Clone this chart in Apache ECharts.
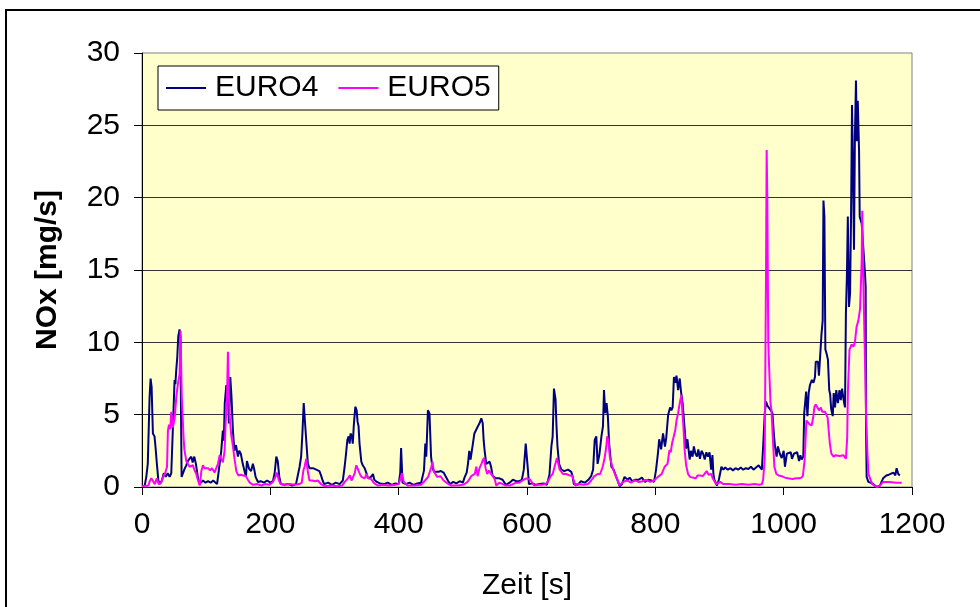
<!DOCTYPE html>
<html>
<head>
<meta charset="utf-8">
<title>NOx EURO4 / EURO5</title>
<script src="https://cdn.jsdelivr.net/npm/echarts@6/dist/echarts.min.js"></script>
<style>
  html, body { margin: 0; padding: 0; background: #ffffff; }
  #chart { width: 980px; height: 607px; }
</style>
</head>
<body>
<div id="chart"></div>
<script>
// NOx emission rate over the test cycle, sampled at irregular time steps [s]
const euro4Time = [0,4,6.7,9,11.8,13.4,15,17,19.5,21,23.2,25.5,27.8,31,34,37,40,43,45.6,48,49.5,50.8,52,53.4,55,56.5,58.5,60,60.6,61.7,64,66.4,69,71.5,74,76.8,79,81.5,84,87,89.5,92,95,99,103,107,111,114,117,121,123.5,126,127.5,129,131.4,134,135.5,137.6,139.5,141.7,144,146.5,149.5,151.5,154,157,162,163.5,165.5,167,170,172.8,175,177,180.6,185,190,195,200,204,206.7,209.3,211.5,214,216.5,222,228,234,240,243,245.6,248,250,252,253.8,256,258.5,261,264,266.5,269,271.6,274,276.5,279,281.5,284,290,296,302,308,313,315.8,318,320,322,323.6,325,327,328.5,330,332.4,334.5,336,337.5,339,341.8,344,347,349.5,352,357,360,362,366,371,377,383,389,395,400,402.5,403.8,405,406,411,417,423,429,435,439.5,441.5,443,445.6,448,450.5,452.4,455,458,462,466,470,473,476.7,480,485,490,495,500,503,506,508,510,512,515.7,518,520.5,523.5,526,528.8,531,532.5,534,536.5,539,541.8,544,546.5,552,557,562,567,573,578,583,588,592,595,598,600,601.5,603,608,614,620,626,631,635,638,640,642,644.5,646,647.5,650,653.5,658,664,669,671,673,679,684,690,695.6,700,703,705.5,708,710,713,716,718.4,720,722,724,726,728,731.5,735,739,742,744.5,748,752,757,760,764,769,774,779,784,789,794,798,801,804,806,809,812,815,817,820,823,825,827,829,831,833,835.5,838,840,842.5,845.7,848,850,853.5,855.5,858,860,862.5,865,867,869.5,872,874.5,877,879.5,882,884.5,887,889,890.5,892,896,899,903,906,909,913,917,921,925,929,933,937,941,945,949,953,957,961,963.5,966,968,970.5,972.5,975,977.5,980,982.5,985,986.5,989,991,994,997,1000,1002,1005,1008,1011,1013,1016,1018,1021,1024,1026,1028,1030.6,1032,1035,1037,1039,1041,1044,1046.5,1048.8,1050,1053.5,1055,1057.5,1059,1060.8,1062,1063.5,1065,1067,1069,1071,1072.5,1074,1076.5,1078,1080,1082,1084.5,1087,1089,1091,1093.5,1095.6,1097,1098.5,1100,1101.8,1103.5,1105,1106.5,1108,1109.6,1111,1112.7,1114,1115.5,1116.4,1117.5,1118.5,1121.6,1124,1126.7,1127.8,1128.3,1129.3,1132,1138,1145,1150,1153,1155,1160,1164,1167,1171,1174,1176,1178.6,1181];
const euro4Value = [0.05,0.05,0.7,1.6,6.2,7.5,6.9,3.7,3.5,2.8,1.6,0.45,0.2,0.45,0.95,0.7,0.95,0.7,0.95,3.9,5.8,7.4,7.1,8.1,9.0,10.4,10.9,10.4,6.2,0.7,0.6,1.25,1.5,1.8,1.9,2.1,1.7,2.1,1.6,0.7,0.2,0.3,0.45,0.3,0.4,0.3,0.45,0.35,0.2,1.6,2.5,3.9,3.2,5.8,7.05,6.2,4.4,7.6,6.2,3.9,2.5,2.9,2.1,2.5,2.3,1.6,0.7,1.8,1.7,1.25,1.1,1.6,1.2,0.7,0.35,0.4,0.3,0.45,0.3,0.4,0.95,2.1,1.8,0.7,0.2,0.15,0.2,0.1,0.2,0.3,1.4,2.1,3.7,5.8,5.9,3.2,1.6,1.3,1.2,1.3,1.2,1.2,1.3,1.1,0.8,0.45,0.2,0.3,0.15,0.3,0.2,0.45,1.4,2.3,3.25,3.5,3.0,3.7,3.5,3.0,4.2,5.55,5.3,4.5,4.2,3.0,1.75,1.5,1.3,1.0,0.6,0.7,0.9,0.5,0.35,0.25,0.2,0.3,0.15,0.25,0.2,1.0,2.7,2.6,0.3,0.2,0.3,0.15,0.25,0.3,1.15,3.0,2.1,5.3,5.1,2.1,1.4,1.05,1.1,1.05,1.1,1.0,0.9,0.45,0.2,0.35,0.25,0.4,0.3,0.7,1.0,1.6,2.5,1.9,3.0,3.7,3.6,4.2,4.4,4.75,4.4,3.2,2.5,1.6,1.5,1.75,1.4,0.75,0.6,0.6,0.5,0.15,0.3,0.5,0.4,0.4,0.5,1.2,3.0,2.9,1.15,0.2,0.25,0.15,0.2,0.25,0.15,0.85,2.8,3.5,6.8,6.05,4.2,2.8,1.6,1.2,1.1,1.2,1.05,0.75,0.2,0.15,0.4,0.3,0.5,0.75,1.2,3.25,3.5,1.6,2.3,3.5,4.2,6.7,5.1,5.8,4.9,3.0,1.4,1.2,0.7,0.35,0.05,0.2,0.7,0.5,0.65,0.4,0.5,0.5,0.65,0.35,0.5,0.45,0.35,1.15,2.3,3.3,2.6,3.7,2.8,3.4,5.0,5.5,5.3,5.5,7.6,7.2,7.7,6.7,7.5,6.6,5.8,4.0,2.65,3.3,1.9,2.5,2.1,2.8,2.3,2.1,2.6,1.95,2.5,2.3,1.9,2.4,2.1,2.4,1.2,2.2,0.9,0.5,0.1,0.5,1.4,1.2,1.35,1.2,1.3,1.15,1.3,1.2,1.35,1.2,1.3,1.25,1.4,1.2,1.35,1.5,1.4,1.2,2.8,5.1,5.9,5.6,5.7,5.3,5.1,3.5,2.8,2.1,2.8,2.3,2.0,2.5,1.4,2.3,2.2,2.4,1.95,2.3,2.2,2.4,1.8,2.2,1.9,2.1,5.1,6.6,4.9,6.5,7.05,7.4,7.2,7.6,8.65,8.65,7.7,7.8,10.6,11.5,19.8,18.7,9.5,9.2,8.8,6.7,6.4,5.4,4.9,6.5,5.5,6.7,5.8,6.7,6.0,6.8,6.0,5.5,12.0,14.5,18.7,12.45,13.4,18.7,26.4,22.2,16.4,24.2,28.1,23.9,26.7,26.7,23.2,18.7,18.2,16.6,14.8,13.8,4.4,0.7,0.35,0.25,0.0,0.1,0.4,0.6,0.8,0.85,0.95,1.0,0.8,1.3,0.9,0.8];

const euro5Time = [0,10,12,14.5,17,20,23,26,30,33,36,39,40.4,42,44,45.6,48,51,53.4,56,58.6,60,61,62,64.8,66,69,72,74,77,79.5,81,84.6,87,90,92.5,95,97.5,100,103,106,109,111,113,116,118.4,121,123.5,126,128.7,130.5,132.5,133.9,135.2,136.5,139,141.5,144,147,150,154,158,162,165,168,173,180,186,192,198,204,208,210,213,216,222,230,238,245,249,251.5,253.4,256,258.5,261,265,270,274,279,285,295,305,312,316,321,324,326.5,329,331.5,334,337,339.5,342,347,350,352.5,357,362,368,376,385,395,400,403,405,408,414,425,435,441,446,451,452.7,455,460,465,470,476,482,492,500,506,509,513,516,518.6,521,523,526,529,531,533,535.5,538,541,544,547,550,552,557,562,567,573,578,583,588,593,599,602,605,611,617,623,629,633,637,640,643,646.6,649,651,656,661,666,670,673,675,680,688,695,700,705,710,714,718,721,723.6,725,727,729,733,737,741,744,750,756,762,768,774,780,786,792,798,804,807,810,814.5,817,819,822,824,826,829,831,833,835.5,838,840.5,842,844,845.7,848,851,854,858,863,866,870,874,877,880,883,887,890,893,895,898,901,903,906,915,925,935,945,955,962,966,968,970.5,972.5,973.5,974.5,976,978,979.5,981,983,985.5,988.6,992,997,1002,1006,1009,1014,1019,1024,1028,1030,1032.7,1035.4,1037,1040,1043.6,1046,1048,1050,1052.5,1055,1058,1060,1062,1064.5,1066.6,1068.5,1070.6,1072,1074.4,1077.7,1081,1084,1087,1090,1093,1095,1097,1099,1100,1102.6,1106,1108.6,1111,1113.7,1116.4,1119,1121.6,1122.5,1124,1126.7,1128.3,1130.4,1132,1138,1145,1150,1155,1165,1175,1184];
const euro5Value = [0.05,0.1,0.4,0.6,0.55,0.2,0.6,0.2,0.3,0.7,0.95,1.4,3.9,4.3,4.0,5.2,4.1,4.8,6.2,7.15,7.8,10.8,10.8,6.2,3.4,2.6,1.8,1.9,1.4,1.5,1.5,1.25,0.9,0.5,0.1,1.1,1.5,1.3,1.2,1.3,1.15,1.3,1.15,1.0,1.05,1.6,2.2,2.1,1.7,2.5,4.55,6.2,9.35,6.6,5.0,3.6,2.9,2.0,1.1,0.8,0.85,0.8,0.75,0.5,0.3,0.15,0.2,0.1,0.2,0.15,0.35,0.7,1.0,0.5,0.2,0.15,0.2,0.15,0.2,0.3,1.15,1.4,1.95,1.05,0.45,0.45,0.4,0.45,0.2,0.05,0.1,0.05,0.1,0.35,0.6,0.8,0.45,0.7,0.95,1.5,1.6,0.9,0.7,0.6,0.9,0.6,0.55,0.25,0.1,0.15,0.1,0.15,0.2,0.6,0.95,0.35,0.1,0.1,0.15,0.45,0.7,1.4,1.75,1.05,0.7,0.75,0.45,0.25,0.1,0.1,0.15,0.3,0.45,0.75,0.65,0.9,1.4,0.75,1.3,1.6,1.85,2.0,1.3,0.9,1.15,0.9,0.75,0.5,0.1,0.3,0.2,0.1,0.1,0.2,0.3,0.3,0.45,0.6,0.65,0.5,0.1,0.15,0.15,0.2,0.4,0.75,0.9,1.4,2.0,2.1,1.2,0.9,0.9,0.8,0.8,0.45,0.1,0.2,0.15,0.2,0.45,0.75,0.9,0.9,1.4,2.0,2.8,3.5,3.2,2.1,1.4,0.9,0.5,0.1,0.35,0.45,0.3,0.45,0.35,0.4,0.5,0.35,0.45,0.7,0.65,0.9,1.4,1.3,1.6,2.55,2.4,3.0,3.0,3.9,4.6,5.1,5.8,6.35,5.3,4.0,2.55,1.5,0.9,0.7,0.65,0.6,0.8,0.8,0.75,0.8,1.1,0.85,0.9,0.55,0.5,0.2,0.1,0.35,0.45,0.2,0.2,0.15,0.2,0.15,0.2,0.15,0.2,0.5,2.0,15.0,23.3,20.0,10.0,7.5,5.8,5.3,3.5,1.4,0.9,0.8,0.75,0.65,0.6,0.55,0.55,0.6,0.6,0.65,0.8,1.85,4.6,4.6,4.35,4.25,4.8,5.55,5.7,5.65,5.3,5.5,5.2,5.1,5.2,5.1,4.8,3.7,3.0,2.3,2.1,2.2,2.1,2.15,2.1,2.2,2.1,1.95,3.4,6.5,9.5,9.85,9.7,10.0,11.1,11.5,12.3,15.6,19.1,14.6,8.8,5.3,2.5,0.9,0.2,0.0,0.1,0.35,0.35,0.3,0.3];

const seriesNames = ['EURO4', 'EURO5'];
const seriesColors = ['#000080', '#FF00FF'];
const xTitle = 'Zeit [s]';
const yTitle = 'NOx [mg/s]';

const FONT = "'Liberation Sans', Arial, sans-serif";

function pairs(times, values) {
  return times.map((t, i) => [t, values[i]]);
}

const chart = echarts.init(document.getElementById('chart'), null, { renderer: 'canvas' });

chart.setOption({
  animation: false,
  backgroundColor: '#ffffff',
  grid: {
    left: 142, top: 53, width: 770, height: 434,
    show: true,
    backgroundColor: '#FFFFCC',
    borderColor: '#808080',
    borderWidth: 1
  },
  legend: {
    data: seriesNames,
    left: 158, top: 66,
    orient: 'horizontal',
    backgroundColor: '#ffffff',
    borderColor: '#000000',
    borderWidth: 1,
    padding: [7, 8, 7, 8],
    itemGap: 20,
    itemWidth: 40,
    itemHeight: 2,
    icon: 'rect',
    textStyle: { fontFamily: FONT, fontSize: 30, color: '#000', padding: [0, 0, 0, 4] }
  },
  xAxis: {
    type: 'value',
    min: 0, max: 1200, interval: 200,
    axisLine: { show: true, lineStyle: { color: '#000', width: 1 } },
    axisTick: { show: true, length: 8, lineStyle: { color: '#000' } },
    axisLabel: { fontFamily: FONT, fontSize: 30, color: '#000', margin: 23, formatter: (v) => String(v) },
    splitLine: { show: false }
  },
  yAxis: {
    type: 'value',
    min: 0, max: 30, interval: 5,
    axisLine: { show: true, lineStyle: { color: '#000', width: 1 } },
    axisTick: { show: true, length: 8, lineStyle: { color: '#000' } },
    axisLabel: { fontFamily: FONT, fontSize: 30, color: '#000', margin: 22, formatter: (v) => String(v) },
    splitLine: { show: true, showMaxLine: false, lineStyle: { color: '#333', width: 1 } }
  },
  graphic: [
    {
      type: 'rect', silent: true, z: -1,
      shape: { x: 6, y: 10, width: 1000, height: 640 },
      style: { fill: 'none', stroke: '#000', lineWidth: 2 }
    },
    {
      type: 'text', silent: true,
      x: 48, y: 270, rotation: Math.PI / 2,
      style: { text: yTitle, fontFamily: FONT, fontSize: 30, fontWeight: 'bold', fill: '#000', align: 'center', verticalAlign: 'middle' }
    },
    {
      type: 'text', silent: true,
      x: 527, y: 586,
      style: { text: xTitle, fontFamily: FONT, fontSize: 30, fill: '#000', align: 'center', verticalAlign: 'middle' }
    }
  ],
  series: [
    {
      name: seriesNames[0], type: 'line', symbol: 'none',
      color: seriesColors[0],
      lineStyle: { color: seriesColors[0], width: 2 },
      data: pairs(euro4Time, euro4Value)
    },
    {
      name: seriesNames[1], type: 'line', symbol: 'none',
      color: seriesColors[1],
      lineStyle: { color: seriesColors[1], width: 2 },
      data: pairs(euro5Time, euro5Value)
    }
  ]
});
</script>
</body>
</html>
